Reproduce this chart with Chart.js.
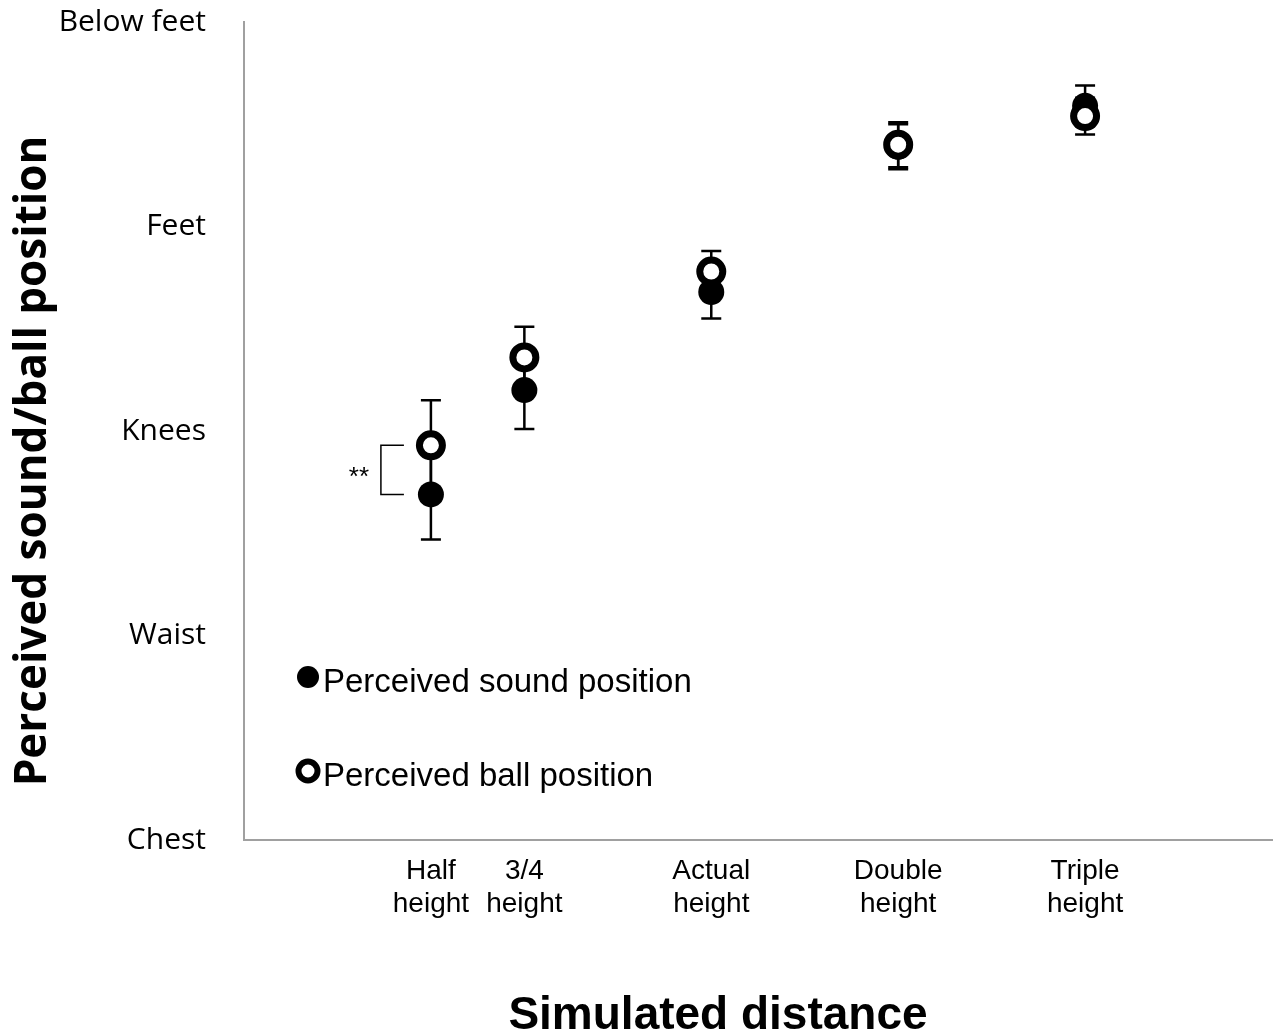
<!DOCTYPE html>
<html>
<head>
<meta charset="utf-8">
<script src="https://cdn.jsdelivr.net/npm/chart.js@4.4.0/dist/chart.umd.min.js"></script>
<style>
  html, body { margin: 0; padding: 0; background: #fff; }
  #wrap { width: 1277px; height: 1034px; }
</style>
</head>
<body>
<div id="wrap"><canvas id="chart"></canvas></div>
<script>
// data (y: 0 = Chest ... 4 = Below feet)
const categories = [['Half', 'height'], ['3/4', 'height'], ['Actual', 'height'], ['Double', 'height'], ['Triple', 'height']];
const xPositions = [1, 1.5, 2.5, 3.5, 4.5];
const yLevels = ['Chest', 'Waist', 'Knees', 'Feet', 'Below feet'];

const soundMean = [1.69, 2.20, 2.68, 3.39, 3.59];
const soundErr = [0.22, 0.19, 0.13, 0.11, 0.10];
const ballMean = [1.93, 2.36, 2.78, 3.40, 3.54];
const ballErr = [0.22, 0.15, 0.10, 0.11, 0.09];

const toPoints = (ys) => ys.map((y, i) => ({ x: xPositions[i], y }));

// error bars drawn under the markers
const errorBars = {
  id: 'errorBars',
  beforeDatasetsDraw(chart) {
    const ctx = chart.ctx;
    const ys = chart.scales.y;
    ctx.save();
    ctx.strokeStyle = '#000';
    ctx.lineWidth = 2.5;
    chart.data.datasets.forEach((ds, di) => {
      const meta = chart.getDatasetMeta(di);
      meta.data.forEach((pt, i) => {
        const v = ds.data[i].y;
        const e = ds.errors[i];
        const top = ys.getPixelForValue(v + e);
        const bot = ys.getPixelForValue(v - e);
        ctx.beginPath();
        ctx.moveTo(pt.x, top); ctx.lineTo(pt.x, bot);
        ctx.moveTo(pt.x - 10, top); ctx.lineTo(pt.x + 10, top);
        ctx.moveTo(pt.x - 10, bot); ctx.lineTo(pt.x + 10, bot);
        ctx.stroke();
      });
    });
    ctx.restore();
  }
};

// significance bracket, inner legend and axis titles
const extras = {
  id: 'extras',
  afterDraw(chart) {
    const ctx = chart.ctx;
    const xs = chart.scales.x, ys = chart.scales.y;
    const area = chart.chartArea;
    ctx.save();

    // ** bracket at half height
    const px = xs.getPixelForValue(xPositions[0]);
    const y1 = ys.getPixelForValue(ballMean[0]);
    const y2 = ys.getPixelForValue(soundMean[0]);
    ctx.strokeStyle = '#000';
    ctx.lineWidth = 1.5;
    ctx.beginPath();
    ctx.moveTo(px - 27, y1); ctx.lineTo(px - 50, y1);
    ctx.lineTo(px - 50, y2); ctx.lineTo(px - 27, y2);
    ctx.stroke();
    ctx.fillStyle = '#000';
    ctx.font = '26px "Liberation Sans", Arial, sans-serif';
    ctx.textAlign = 'center';
    ctx.textBaseline = 'alphabetic';
    ctx.fillText('**', px - 72, (y1 + y2) / 2 + 15);

    // legend
    const lx = area.left + 64;
    const items = [
      { ds: chart.data.datasets[0], y: 677 },
      { ds: chart.data.datasets[1], y: 771 }
    ];
    ctx.font = '33px "Liberation Sans", Arial, sans-serif';
    ctx.textAlign = 'left';
    items.forEach(it => {
      ctx.beginPath();
      if (it.ds.borderWidth > 0) {
        ctx.arc(lx, it.y, 9.5, 0, Math.PI * 2);
        ctx.fillStyle = '#fff';
        ctx.fill();
        ctx.lineWidth = 6;
        ctx.strokeStyle = '#000';
        ctx.stroke();
      } else {
        ctx.arc(lx, it.y, 11, 0, Math.PI * 2);
        ctx.fillStyle = '#000';
        ctx.fill();
      }
      ctx.fillStyle = '#000';
      ctx.fillText(it.ds.label, lx + 15, it.y + 15);
    });

    // axis titles
    ctx.font = 'bold 46px "Liberation Sans", Arial, sans-serif';
    ctx.textAlign = 'center';
    ctx.fillText('Simulated distance', 718, 1029);

    ctx.translate(33, 461);
    ctx.rotate(-Math.PI / 2);
    ctx.font = 'bold 44px "Open Sans", sans-serif';
    ctx.textBaseline = 'middle';
    ctx.fillText('Perceived sound/ball position', 0, 0);
    ctx.restore();
  }
};

new Chart(document.getElementById('chart'), {
  type: 'scatter',
  data: {
    datasets: [
      {
        label: 'Perceived sound position',
        data: toPoints(soundMean),
        errors: soundErr,
        pointRadius: 13,
        pointHoverRadius: 13,
        backgroundColor: '#000',
        borderColor: '#000',
        borderWidth: 0,
        order: 2
      },
      {
        label: 'Perceived ball position',
        data: toPoints(ballMean),
        errors: ballErr,
        pointRadius: 11.5,
        pointHoverRadius: 11.5,
        backgroundColor: '#fff',
        borderColor: '#000',
        borderWidth: 7,
        order: 1
      }
    ]
  },
  options: {
    responsive: true,
    maintainAspectRatio: false,
    animation: false,
    layout: { autoPadding: false, padding: { top: 22, right: 5, left: 0, bottom: 0 } },
    plugins: {
      legend: { display: false },
      tooltip: { enabled: false }
    },
    scales: {
      x: {
        type: 'linear',
        min: 0,
        max: 5.5,
        grid: { display: false, drawTicks: false },
        border: { display: true, color: '#a0a0a0', width: 2 },
        afterBuildTicks: (s) => { s.ticks = xPositions.map(v => ({ value: v })); },
        afterFit: (s) => { s.height = 194; },
        ticks: {
          color: '#000',
          padding: 14,
          maxRotation: 0,
          autoSkip: false,
          font: { family: '"Liberation Sans", Arial, sans-serif', size: 28, lineHeight: 1.2 },
          callback: (v, i) => categories[i]
        }
      },
      y: {
        min: 0,
        max: 4,
        // tick marks hidden, their length only spaces the labels from the axis
        grid: { display: false, drawTicks: true, tickLength: 38 },
        border: { display: true, color: '#a0a0a0', width: 2 },
        afterBuildTicks: (s) => { s.ticks = yLevels.map((l, i) => ({ value: i })); },
        afterFit: (s) => { s.width = 244; },
        ticks: {
          color: '#000',
          padding: 0,
          font: { family: '"Open Sans", sans-serif', size: 30 },
          callback: (v) => yLevels[v]
        }
      }
    }
  },
  plugins: [errorBars, extras]
});
</script>
</body>
</html>
